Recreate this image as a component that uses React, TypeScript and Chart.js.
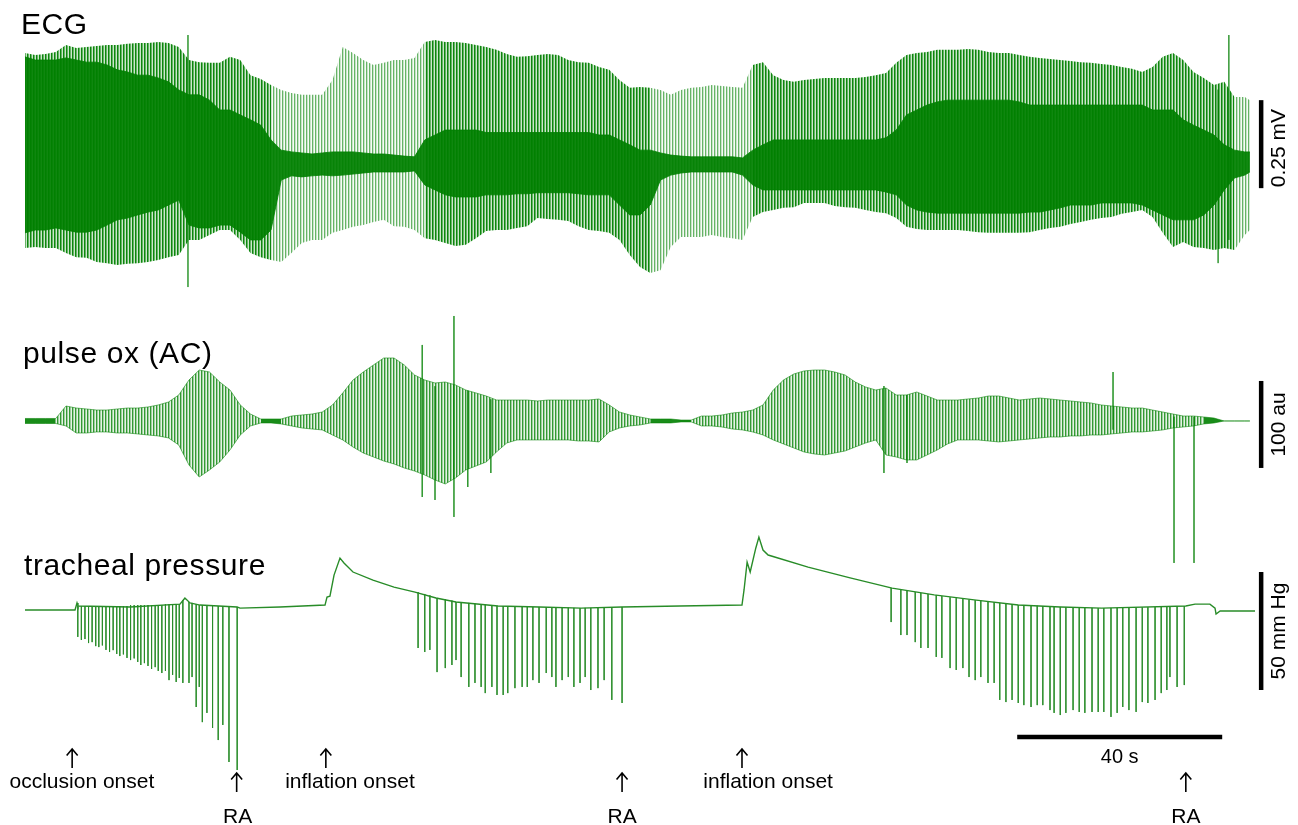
import React, { useEffect, useRef } from "react";
import { Chart, registerables } from "chart.js";

Chart.register(...registerables);

// ---------------- data (time in s, ECG in mV, pulse ox in au, tracheal pressure in mm Hg) ----------------
const timeGrid = [0, 2, 4, 6, 8, 10, 12, 14, 16, 18, 20, 22, 24, 26, 28, 30, 32, 34, 36, 38, 40, 42, 44, 46, 48, 50, 52, 54, 56, 58, 60, 62, 64, 66, 68, 70, 72, 74, 76, 78, 80, 82, 84, 86, 88, 90, 92, 94, 96, 98, 100, 102, 104, 106, 108, 110, 112, 114, 116, 118, 120, 122, 124, 126, 128, 130, 132, 134, 136, 138, 140, 142, 144, 146, 148, 150, 152, 154, 156, 158, 160, 162, 164, 166, 168, 170, 172, 174, 176, 178, 180, 182, 184, 186, 188, 190, 192, 194, 196, 198, 200, 202, 204, 206, 208, 210, 212, 214, 216, 218, 220, 222, 224, 226, 228, 230, 232, 234, 236, 238, 239];

// ECG: envelope of R peaks / S troughs
const ecgHigh = [0.304, 0.298, 0.301, 0.307, 0.327, 0.318, 0.321, 0.324, 0.327, 0.327,
  0.330, 0.332, 0.332, 0.335, 0.332, 0.321, 0.284, 0.278, 0.276, 0.276,
  0.293, 0.284, 0.241, 0.230, 0.213, 0.199, 0.190, 0.185, 0.185, 0.185,
  0.227, 0.321, 0.304, 0.284, 0.270, 0.276, 0.284, 0.284, 0.290, 0.335,
  0.341, 0.335, 0.335, 0.332, 0.327, 0.321, 0.313, 0.301, 0.293, 0.295,
  0.298, 0.301, 0.298, 0.284, 0.278, 0.276, 0.264, 0.256, 0.227, 0.205,
  0.207, 0.205, 0.199, 0.185, 0.199, 0.205, 0.207, 0.213, 0.210, 0.207,
  0.205, 0.270, 0.278, 0.241, 0.227, 0.222, 0.227, 0.230, 0.233, 0.233,
  0.233, 0.233, 0.236, 0.241, 0.247, 0.276, 0.298, 0.304, 0.307, 0.313,
  0.313, 0.313, 0.315, 0.313, 0.307, 0.304, 0.304, 0.298, 0.293, 0.290,
  0.287, 0.284, 0.281, 0.278, 0.276, 0.273, 0.270, 0.264, 0.259, 0.250,
  0.264, 0.293, 0.304, 0.284, 0.250, 0.233, 0.213, 0.222, 0.179, 0.179,
  0.170];
const ecgLow = [-0.250, -0.247, -0.250, -0.250, -0.264, -0.276, -0.278, -0.290, -0.293, -0.298,
  -0.295, -0.293, -0.290, -0.284, -0.276, -0.270, -0.227, -0.227, -0.213, -0.199,
  -0.199, -0.227, -0.264, -0.276, -0.284, -0.290, -0.264, -0.236, -0.227, -0.227,
  -0.207, -0.199, -0.190, -0.185, -0.176, -0.170, -0.188, -0.190, -0.199, -0.222,
  -0.227, -0.236, -0.244, -0.241, -0.222, -0.202, -0.199, -0.199, -0.193, -0.188,
  -0.165, -0.168, -0.170, -0.173, -0.188, -0.199, -0.202, -0.207, -0.227, -0.270,
  -0.304, -0.321, -0.313, -0.247, -0.219, -0.219, -0.219, -0.213, -0.219, -0.222,
  -0.227, -0.162, -0.148, -0.142, -0.136, -0.134, -0.122, -0.122, -0.122, -0.131,
  -0.134, -0.136, -0.142, -0.148, -0.151, -0.165, -0.190, -0.196, -0.199, -0.199,
  -0.199, -0.199, -0.202, -0.205, -0.207, -0.207, -0.207, -0.207, -0.205, -0.199,
  -0.193, -0.190, -0.182, -0.176, -0.170, -0.165, -0.162, -0.153, -0.148, -0.142,
  -0.162, -0.207, -0.247, -0.233, -0.247, -0.250, -0.256, -0.250, -0.256, -0.213,
  -0.199];
// ECG: dense core (overlapping beats / baseline band)
const ecgCoreHigh = [0.293, 0.284, 0.284, 0.284, 0.290, 0.284, 0.278, 0.278, 0.270, 0.256,
  0.250, 0.241, 0.241, 0.233, 0.222, 0.199, 0.185, 0.185, 0.170, 0.142,
  0.142, 0.128, 0.114, 0.099, 0.057, 0.028, 0.023, 0.020, 0.017, 0.020,
  0.023, 0.023, 0.023, 0.020, 0.017, 0.017, 0.014, 0.011, 0.009, 0.057,
  0.071, 0.085, 0.085, 0.085, 0.085, 0.078, 0.078, 0.078, 0.078, 0.078,
  0.078, 0.078, 0.078, 0.078, 0.078, 0.078, 0.071, 0.071, 0.057, 0.043,
  0.028, 0.028, 0.020, 0.014, 0.011, 0.009, 0.009, 0.009, 0.009, 0.009,
  0.006, 0.028, 0.043, 0.057, 0.057, 0.057, 0.057, 0.057, 0.057, 0.057,
  0.057, 0.057, 0.057, 0.057, 0.063, 0.085, 0.128, 0.142, 0.156, 0.165,
  0.170, 0.170, 0.170, 0.170, 0.170, 0.170, 0.170, 0.165, 0.156, 0.156,
  0.156, 0.156, 0.156, 0.156, 0.156, 0.156, 0.156, 0.156, 0.156, 0.156,
  0.142, 0.142, 0.142, 0.114, 0.099, 0.085, 0.071, 0.043, 0.028, 0.023,
  0.023];
const ecgCoreLow = [-0.207, -0.199, -0.199, -0.193, -0.199, -0.205, -0.205, -0.199, -0.185, -0.170,
  -0.165, -0.156, -0.148, -0.142, -0.128, -0.114, -0.185, -0.193, -0.193, -0.185,
  -0.185, -0.205, -0.227, -0.227, -0.199, -0.057, -0.045, -0.048, -0.045, -0.043,
  -0.045, -0.043, -0.040, -0.037, -0.034, -0.034, -0.034, -0.034, -0.031, -0.071,
  -0.085, -0.099, -0.105, -0.105, -0.105, -0.099, -0.099, -0.099, -0.096, -0.096,
  -0.093, -0.093, -0.093, -0.093, -0.096, -0.099, -0.099, -0.099, -0.128, -0.156,
  -0.156, -0.128, -0.057, -0.043, -0.037, -0.034, -0.034, -0.034, -0.034, -0.034,
  -0.043, -0.071, -0.085, -0.085, -0.085, -0.085, -0.085, -0.085, -0.085, -0.085,
  -0.085, -0.085, -0.085, -0.085, -0.091, -0.099, -0.128, -0.142, -0.148, -0.151,
  -0.151, -0.151, -0.151, -0.151, -0.151, -0.151, -0.151, -0.151, -0.148, -0.148,
  -0.142, -0.136, -0.128, -0.128, -0.128, -0.122, -0.122, -0.122, -0.122, -0.128,
  -0.142, -0.156, -0.170, -0.170, -0.170, -0.156, -0.128, -0.085, -0.051, -0.043,
  -0.034];
// ECG: beat density class per interval (2 = closely packed beats, 1 = sparse beats)
const ecgBeatDensity = [2, 2, 2, 2, 2, 2, 2, 2, 2, 2,
  2, 2, 2, 2, 2, 2, 2, 2, 2, 2,
  2, 2, 2, 2, 1, 1, 1, 1, 1, 1,
  1, 1, 1, 1, 1, 1, 1, 1, 1, 2,
  2, 2, 2, 2, 2, 2, 2, 2, 2, 2,
  2, 2, 2, 2, 2, 2, 2, 2, 2, 2,
  2, 1, 1, 1, 1, 1, 1, 1, 1, 1,
  1, 2, 2, 2, 2, 2, 2, 2, 2, 2,
  2, 2, 2, 2, 2, 2, 2, 2, 2, 2,
  2, 2, 2, 2, 2, 2, 2, 2, 2, 2,
  2, 2, 2, 2, 2, 2, 2, 2, 2, 2,
  2, 2, 2, 2, 2, 2, 2, 2, 1, 1,
  1];
// ECG artefacts
const ecgSpikeTimes = [31.8, 232.8, 234.9];
const ecgSpikeHigh = [0.355, 0.2, 0.355];
const ecgSpikeLow = [-0.361, -0.293, -0.227];

// Pulse oximeter (AC): envelope
const poxHigh = [2.9, 2.9, 2.9, 2.9, 17.2, 14.9, 13.8, 12.6, 12.6, 13.8,
  14.9, 14.9, 16.1, 18.4, 21.8, 29.9, 47.1, 58.6, 56.3, 44.8,
  35.6, 18.4, 8.0, 2.3, 2.3, 2.3, 5.7, 6.9, 8.0, 10.3,
  18.4, 32.2, 47.1, 56.3, 64.4, 72.4, 72.4, 64.4, 52.9, 47.1,
  43.7, 44.8, 41.4, 35.6, 32.2, 28.7, 24.1, 24.1, 24.1, 24.1,
  23.0, 24.1, 24.1, 24.1, 24.1, 24.1, 25.3, 18.4, 10.3, 6.9,
  4.6, 2.3, 2.3, 2.3, 1.1, 1.1, 5.7, 5.7, 6.9, 9.2,
  10.3, 12.6, 18.4, 35.6, 47.1, 54.0, 57.5, 58.6, 58.6, 56.3,
  52.9, 44.8, 39.1, 35.6, 37.9, 29.9, 29.9, 33.3, 28.7, 24.1,
  24.1, 24.1, 25.3, 26.4, 28.7, 28.7, 26.4, 24.1, 25.3, 26.4,
  25.3, 24.1, 23.0, 21.8, 20.7, 18.4, 17.2, 16.1, 14.9, 14.9,
  12.6, 10.3, 8.0, 5.7, 5.7, 4.6, 3.4, 0, 0, 0,
  0];
const poxLow = [-2.9, -2.9, -2.9, -2.9, -5.7, -13.8, -13.8, -12.6, -12.6, -13.8,
  -13.8, -14.9, -16.1, -17.2, -19.5, -27.6, -50.6, -64.4, -56.3, -47.1,
  -33.3, -16.1, -5.7, -2.3, -2.3, -3.4, -5.7, -8.0, -9.2, -10.3,
  -16.1, -21.8, -29.9, -36.8, -41.4, -46.0, -49.4, -54.0, -57.5, -62.1,
  -67.8, -72.4, -65.5, -56.3, -51.7, -47.1, -35.6, -25.3, -21.8, -21.8,
  -21.8, -21.8, -21.8, -21.8, -23.0, -23.0, -24.1, -12.6, -8.0, -5.7,
  -4.6, -2.3, -2.3, -2.3, -1.1, -1.1, -5.7, -5.7, -6.9, -9.2,
  -10.3, -12.6, -16.1, -21.8, -26.4, -31.0, -35.6, -37.9, -39.1, -36.8,
  -34.5, -29.9, -25.3, -21.8, -39.1, -41.4, -44.8, -44.8, -39.1, -33.3,
  -26.4, -21.8, -21.8, -21.8, -23.0, -24.1, -23.0, -21.8, -20.7, -19.5,
  -18.4, -18.4, -17.2, -17.2, -16.1, -16.1, -14.9, -13.8, -12.6, -12.6,
  -11.5, -10.3, -8.0, -6.9, -5.7, -3.4, -2.3, 0, 0, 0,
  0];
const poxSpikeTimes = [77.5, 80.0, 83.7, 86.4, 90.9, 167.6, 172.1, 212.3, 224.2, 228.1];
const poxSpikeHigh = [87.4, 40.0, 120.7, 35.0, 25.0, 40.2, 30.0, 56.3, 5.0, 5.0];
const poxSpikeLow = [-87.4, -90.8, -110.3, -75.9, -59.8, -59.8, -48.3, -10.0, -163.2, -163.2];

// Tracheal pressure: slow baseline
const tpBaseTimes = [0, 9.76, 10.15, 10.34, 20.5, 30.24, 31.2, 32.2, 34.15, 41.37, 41.95, 49.76, 58.54, 58.93, 59.5, 60.3, 61.46, 62.24, 64.0, 67.9, 72.0, 76.1, 80.2, 84.1, 92.3, 100.3, 108.5, 116.5, 127.8, 139.9, 140.3, 140.9, 141.5, 142.6, 143.2, 144.0, 145.0, 152.8, 161.0, 169.2, 177.4, 185.6, 193.8, 202.0, 210.1, 226.5, 228.3, 231.2, 232.2, 232.4, 233.2, 240.0];
const tpBaseValues = [0, 0, 3.0, 1.7, 1.3, 2.5, 5.1, 3.0, 2.1, 1.3, 0.8, 1.3, 2.1, 5.5, 5.9, 14.8, 22.0, 19.9, 16.1, 12.7, 9.7, 7.6, 5.1, 3.4, 1.7, 1.3, 0.8, 1.3, 1.7, 2.1, 8.5, 20.3, 16.1, 26.3, 30.9, 25.4, 23.3, 18.2, 13.6, 9.3, 6.4, 4.2, 2.1, 1.3, 0.8, 1.7, 2.5, 2.5, 0.8, -1.7, -0.4, -0.4];

// Tracheal pressure: inspiratory efforts after occlusion onset
const effortTimes1 = [10.3, 11.0, 11.7, 12.4, 13.1, 13.8, 14.4, 15.1, 15.8, 16.5, 17.2, 17.9, 18.5, 19.2, 19.9, 20.6, 21.3, 22.0, 22.6, 23.3, 24.0, 24.7, 25.4, 26.0, 26.7, 27.4, 28.1, 28.8, 29.5, 30.1, 30.8, 32.0, 32.6, 33.4, 34.0, 34.6, 35.5, 36.6, 37.7, 38.6, 39.8, 41.4];
const effortTop1 = [1.7, 1.7, 1.7, 1.7, 1.7, 1.7, 1.7, 1.7, 1.7, 1.7, 1.7, 1.7, 1.7, 1.7, 1.7, 2.1, 2.1, 2.1, 2.1, 2.1, 2.1, 2.1, 2.1, 2.1, 2.1, 2.5, 2.5, 2.5, 2.5, 2.5, 4.2, 3.4, 3.0, 2.5, 2.1, 2.1, 2.1, 1.7, 1.7, 1.7, 1.3, 1.3];
const effortBottom1 = [-11.4, -12.7, -12.3, -14.0, -13.6, -15.3, -15.7, -15.0, -16.9, -17.8, -17.0, -18.6, -19.5, -18.8, -20.3, -21.2, -20.5, -22.0, -23.3, -22.5, -23.7, -25.0, -24.2, -25.8, -26.7, -25.8, -29.7, -27.5, -30.5, -28.8, -30.9, -30.9, -28.4, -41.1, -32.6, -47.5, -43.6, -50.0, -55.1, -48.7, -64.4, -67.8];
// after first inflation
const effortTimes2 = [76.7, 78.0, 79.0, 80.4, 82.0, 83.3, 84.1, 85.1, 86.6, 87.8, 89.0, 89.8, 91.1, 92.1, 93.3, 94.2, 95.6, 97.0, 98.0, 99.1, 100.3, 101.7, 102.8, 103.6, 104.8, 106.0, 107.1, 108.3, 109.3, 110.4, 111.8, 113.0, 114.5, 116.5];
const effortTop2 = [7.6, 6.8, 6.2, 5.1, 4.6, 4.0, 3.4, 3.2, 3.0, 2.7, 2.5, 2.3, 2.0, 1.7, 1.7, 1.6, 1.5, 1.4, 1.4, 1.3, 1.3, 1.2, 1.2, 1.1, 1.1, 1.0, 0.9, 0.8, 0.9, 0.9, 1.0, 1.1, 1.2, 1.3];
const effortBottom2 = [-16.1, -17.8, -16.9, -26.3, -24.6, -23.3, -21.2, -28.4, -32.6, -30.9, -32.6, -35.2, -32.6, -36.0, -36.0, -35.2, -33.1, -32.6, -32.6, -29.7, -30.9, -26.7, -28.4, -32.6, -29.7, -28.4, -32.6, -30.9, -28.4, -33.9, -33.1, -29.7, -38.1, -39.4];
// after second inflation
const effortTimes3 = [169.0, 170.9, 172.1, 173.7, 174.8, 176.2, 177.8, 178.9, 180.5, 181.7, 183.0, 184.2, 185.4, 186.5, 187.9, 189.1, 190.2, 191.4, 192.6, 193.8, 194.9, 196.3, 197.5, 198.6, 200.0, 200.8, 202.0, 203.1, 204.5, 205.7, 206.8, 208.2, 209.4, 210.5, 211.9, 213.1, 214.2, 215.4, 216.8, 218.0, 219.1, 220.5, 221.7, 222.8, 223.4, 224.8, 226.2];
const effortTop3 = [9.3, 8.6, 8.2, 7.6, 7.2, 6.8, 6.3, 5.9, 5.4, 5.0, 4.7, 4.4, 4.2, 3.9, 3.6, 3.3, 3.0, 2.8, 2.5, 2.1, 2.0, 1.9, 1.8, 1.7, 1.5, 1.4, 1.3, 1.2, 1.1, 1.0, 1.0, 0.9, 0.8, 0.8, 0.9, 0.9, 1.0, 1.0, 1.1, 1.1, 1.2, 1.3, 1.4, 1.5, 1.5, 1.6, 1.7];
const effortBottom3 = [-5.1, -10.6, -10.6, -13.6, -16.1, -16.1, -19.9, -20.3, -24.6, -25.4, -24.6, -28.4, -29.7, -28.4, -30.9, -30.9, -38.1, -39.0, -38.1, -39.4, -40.3, -41.1, -40.3, -40.3, -42.4, -43.6, -44.5, -43.6, -42.4, -43.2, -43.6, -43.2, -43.2, -43.2, -45.3, -43.6, -41.1, -42.4, -43.2, -39.0, -39.4, -38.1, -35.2, -33.9, -28.4, -32.6, -31.8];

// Event markers
const markerLabels = ["occlusion onset", "RA", "inflation onset", "RA", "inflation onset", "RA"];
const markerTimes = [9.2, 41.3, 58.7, 116.5, 139.9, 226.5];
const markerLabelTimes = [11.1, 41.5, 63.4, 116.5, 145.0, 226.5];

// Titles and scale bars
const traceTitles = ["ECG", "pulse ox (AC)", "tracheal pressure"];
const ecgBarSize = 0.25;
const poxBarSize = 100;
const tpBarSize = 50;
const timeBarSize = 40;
const scaleBarLabels = ["0.25 mV", "100 au", "50 mm Hg", "40 s"];

// ---------------- layout (scale ranges / placement) ----------------
const X_MIN = -4.878;
const X_MAX = 248.39;
const BAR_T = 241.2; // time position of vertical scale bars
const ecgBarFrom = -0.08;
const poxBarFrom = -54;
const tpBarFrom = -33.9;
const timeBarFrom = 193.6;
const timeBarLevel = -53.8;

const FONT = '"Liberation Sans", Arial, Helvetica, sans-serif';

function stripePattern(ctx: CanvasRenderingContext2D, alphas: number[]) {
  const c = document.createElement("canvas");
  c.width = alphas.length;
  c.height = 1;
  const g = c.getContext("2d")!;
  alphas.forEach((a, i) => {
    g.fillStyle = `rgba(0,128,0,${a})`;
    g.fillRect(i, 0, 1, 1);
  });
  return ctx.createPattern(c, "repeat")!;
}

const gridPoints = (vals: number[]) => timeGrid.map((t, i) => ({ x: t, y: vals[i] }));
const segments = (times: number[], hi: number[], lo: number[]) =>
  times.flatMap((t, i) => [
    { x: t, y: hi[i] },
    { x: t, y: lo[i] },
    { x: t, y: null as any },
  ]);

function drawArrow(ctx: CanvasRenderingContext2D, x: number, top: number, bottom: number) {
  ctx.beginPath();
  ctx.moveTo(x, bottom);
  ctx.lineTo(x, top + 1);
  ctx.moveTo(x - 5.5, top + 6.5);
  ctx.lineTo(x, top);
  ctx.lineTo(x + 5.5, top + 6.5);
  ctx.stroke();
}

function drawRotated(ctx: CanvasRenderingContext2D, text: string, x: number, y: number) {
  ctx.save();
  ctx.translate(x, y);
  ctx.rotate(-Math.PI / 2);
  ctx.textAlign = "center";
  ctx.textBaseline = "alphabetic";
  ctx.fillText(text, 0, 0);
  ctx.restore();
}

const annotationPlugin = {
  id: "traceAnnotations",
  afterDraw(chart: any) {
    const { ctx, scales } = chart;
    const xs = scales.x;
    ctx.save();
    ctx.fillStyle = "#000";
    ctx.strokeStyle = "#000";
    ctx.textAlign = "left";
    ctx.textBaseline = "alphabetic";
    ctx.font = `30px ${FONT}`;
    (ctx as any).letterSpacing = "0.6px";
    ctx.fillText(traceTitles[0], 21, 34);
    ctx.fillText(traceTitles[1], 23, 363);
    ctx.fillText(traceTitles[2], 24, 575);
    (ctx as any).letterSpacing = "0px";

    ctx.font = `21px ${FONT}`;
    drawRotated(ctx, scaleBarLabels[0], 1285, scales.yE.getPixelForValue(ecgBarFrom + ecgBarSize / 2) + 4);
    drawRotated(ctx, scaleBarLabels[1], 1285, scales.yP.getPixelForValue(poxBarFrom + poxBarSize / 2));
    drawRotated(ctx, scaleBarLabels[2], 1285, scales.yT.getPixelForValue(tpBarFrom + tpBarSize / 2));

    ctx.textAlign = "center";
    ctx.font = `20px ${FONT}`;
    ctx.fillText(scaleBarLabels[3], xs.getPixelForValue(timeBarFrom + timeBarSize / 2), 763);

    ctx.lineWidth = 1.6;
    ctx.font = `21px ${FONT}`;
    markerTimes.forEach((t, i) => {
      const isRA = markerLabels[i] === "RA";
      const top = isRA ? 773 : 749;
      drawArrow(ctx, xs.getPixelForValue(t), top, top + 19);
      ctx.fillText(markerLabels[i], xs.getPixelForValue(markerLabelTimes[i]), isRA ? 823 : 788);
    });
    ctx.restore();
  },
};

export default function App() {
  const ref = useRef<HTMLCanvasElement>(null);

  useEffect(() => {
    const canvas = ref.current!;
    const ctx = canvas.getContext("2d")!;
    const ecgDense = stripePattern(ctx, [0.95, 0.6, 0.2]);
    const ecgSparse = stripePattern(ctx, [0.6, 0.22, 0.03]);
    const poxPattern = stripePattern(ctx, [0.8, 0.38, 0.1]);
    const poxSolid = "rgba(0,128,0,0.9)";

    const line = (extra: any) => ({
      type: "line",
      pointRadius: 0,
      tension: 0,
      fill: false,
      borderWidth: 1,
      ...extra,
    });

    // segment styles (the dash offset only serves to keep differently filled segments apart)
    const ecgSegment = {
      backgroundColor: (c: any) => (ecgBeatDensity[c.p0DataIndex] === 2 ? ecgDense : ecgSparse),
      borderDashOffset: (c: any) => ecgBeatDensity[c.p0DataIndex],
    };
    const poxFlat = (i: number) => poxHigh[i] - poxLow[i] < 9;
    const poxSegment = {
      backgroundColor: (c: any) => (poxFlat(c.p0DataIndex) && poxFlat(c.p1DataIndex) ? poxSolid : poxPattern),
      borderDashOffset: (c: any) => (poxFlat(c.p0DataIndex) && poxFlat(c.p1DataIndex) ? 1 : 2),
    };

    const datasets: any[] = [
      line({ label: "ECG max", data: gridPoints(ecgHigh), yAxisID: "yE", borderColor: "rgba(0,0,0,0)", backgroundColor: ecgDense, fill: "+1", segment: ecgSegment, order: 10 }),
      line({ label: "ECG min", data: gridPoints(ecgLow), yAxisID: "yE", borderColor: "rgba(0,0,0,0)", order: 10 }),
      line({ label: "ECG core max", data: gridPoints(ecgCoreHigh), yAxisID: "yE", borderColor: "rgba(0,128,0,0.8)", backgroundColor: "rgba(0,128,0,0.93)", fill: "+1", order: 9 }),
      line({ label: "ECG core min", data: gridPoints(ecgCoreLow), yAxisID: "yE", borderColor: "rgba(0,128,0,0.8)", order: 9 }),
      line({ label: "ECG artefacts", data: segments(ecgSpikeTimes, ecgSpikeHigh, ecgSpikeLow), yAxisID: "yE", borderColor: "rgba(0,128,0,0.55)", order: 8 }),
      line({ label: "pulse ox max", data: gridPoints(poxHigh), yAxisID: "yP", borderColor: "rgba(0,128,0,0.55)", backgroundColor: poxPattern, fill: "+1", segment: poxSegment, order: 10 }),
      line({ label: "pulse ox min", data: gridPoints(poxLow), yAxisID: "yP", borderColor: "rgba(0,128,0,0.55)", order: 10 }),
      line({ label: "pulse ox spikes", data: segments(poxSpikeTimes, poxSpikeHigh, poxSpikeLow), yAxisID: "yP", borderColor: "rgba(0,128,0,0.6)", order: 8 }),
      line({ label: "tracheal baseline", data: tpBaseTimes.map((t, i) => ({ x: t, y: tpBaseValues[i] })), yAxisID: "yT", borderColor: "rgb(40,140,40)", borderWidth: 1.4, order: 5 }),
      line({
        label: "tracheal efforts",
        data: [
          ...segments(effortTimes1, effortTop1, effortBottom1),
          ...segments(effortTimes2, effortTop2, effortBottom2),
          ...segments(effortTimes3, effortTop3, effortBottom3),
        ],
        yAxisID: "yT",
        borderColor: "rgba(40,140,40,0.85)",
        order: 5,
      }),
      line({ label: "ECG bar", data: [{ x: BAR_T, y: ecgBarFrom }, { x: BAR_T, y: ecgBarFrom + ecgBarSize }], yAxisID: "yE", borderColor: "#000", borderWidth: 4.5, borderCapStyle: "butt", order: 1 }),
      line({ label: "pox bar", data: [{ x: BAR_T, y: poxBarFrom }, { x: BAR_T, y: poxBarFrom + poxBarSize }], yAxisID: "yP", borderColor: "#000", borderWidth: 4.5, borderCapStyle: "butt", order: 1 }),
      line({ label: "tp bar", data: [{ x: BAR_T, y: tpBarFrom }, { x: BAR_T, y: tpBarFrom + tpBarSize }], yAxisID: "yT", borderColor: "#000", borderWidth: 4.5, borderCapStyle: "butt", order: 1 }),
      line({ label: "time bar", data: [{ x: timeBarFrom, y: timeBarLevel }, { x: timeBarFrom + timeBarSize, y: timeBarLevel }], yAxisID: "yT", borderColor: "#000", borderWidth: 4.5, borderCapStyle: "butt", order: 1 }),
    ];

    const chart = new Chart(canvas, {
      type: "line",
      data: { datasets },
      options: {
        responsive: false,
        animation: false,
        events: [],
        layout: { padding: 0 },
        plugins: { legend: { display: false }, tooltip: { enabled: false } },
        elements: { point: { radius: 0 } },
        scales: {
          x: { type: "linear", min: X_MIN, max: X_MAX, display: false },
          yE: { type: "linear", position: "left", min: -1.8892, max: 0.4545, display: false },
          yP: { type: "linear", position: "left", min: -464.4, max: 483.9, display: false },
          yT: { type: "linear", position: "left", min: -91.1, max: 258.5, display: false },
        },
      } as any,
      plugins: [annotationPlugin as any],
    } as any);

    return () => chart.destroy();
  }, []);

  return (
    <div style={{ position: "fixed", left: 0, top: 0, width: 1298, height: 825, background: "#fff" }}>
      <canvas ref={ref} width={1298} height={825} style={{ display: "block", width: 1298, height: 825 }} />
    </div>
  );
}
